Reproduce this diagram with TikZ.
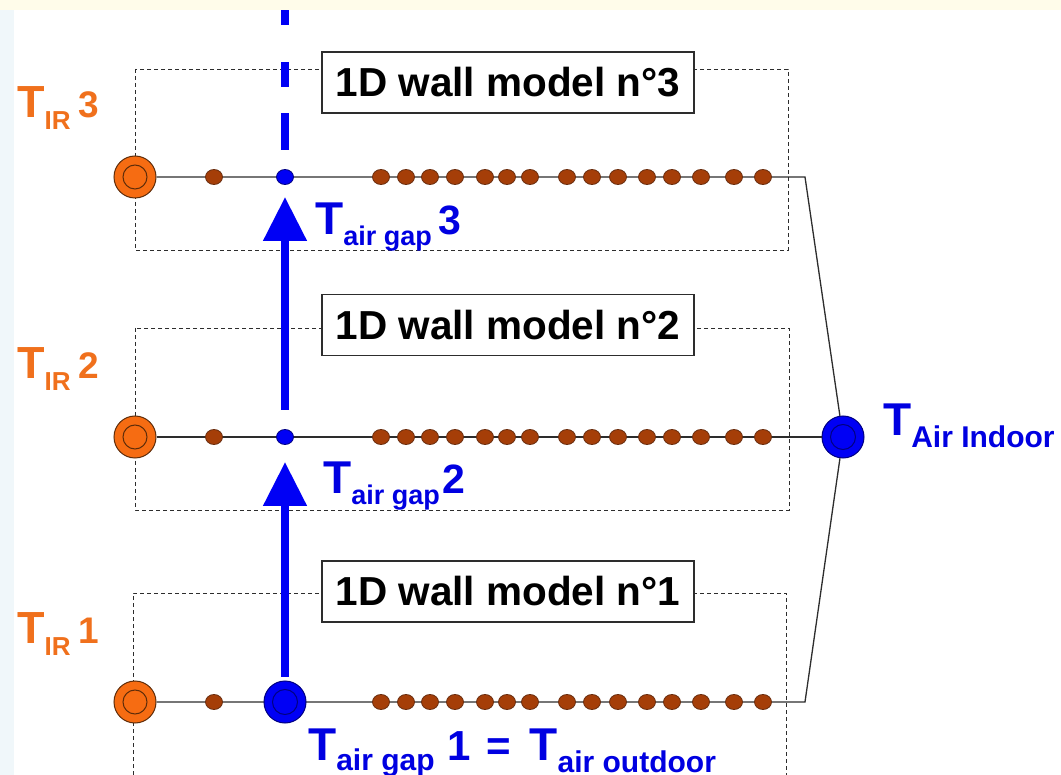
\documentclass[tikz,border=0pt]{standalone}
\usepackage{fontspec}
\setmainfont{Liberation Sans}
\usetikzlibrary{arrows.meta,shapes.geometric}

\definecolor{irorange}{RGB}{246,108,18}
\definecolor{irtext}{RGB}{240,112,28}
\definecolor{nodeedge}{RGB}{95,45,10}
\definecolor{brick}{RGB}{165,62,8}
\definecolor{brickedge}{RGB}{105,45,15}
\definecolor{airblue}{RGB}{0,0,245}
\definecolor{airedge}{RGB}{0,0,130}
\definecolor{textblue}{RGB}{0,0,225}
\definecolor{wire}{RGB}{45,45,45}
\definecolor{topband}{RGB}{255,252,234}
\definecolor{leftband}{RGB}{240,247,250}

\begin{document}
\begin{tikzpicture}[x=1pt,y=-1pt,
  wallbox/.style={draw=wire,line width=0.9pt,dash pattern=on 4pt off 3pt},
  modelbox/.style={draw=wire,line width=1.3pt,fill=white,minimum width=372pt,
    minimum height=61pt,inner sep=0pt,
    font=\fontsize{40.5}{40.5}\selectfont\bfseries},
  rowline/.style={draw=wire,line width=1.3pt},
  brickdot/.style={ellipse,fill=brick,draw=brickedge,line width=0.8pt,
    minimum width=17pt,minimum height=15pt,inner sep=0pt},
  gapdot/.style={ellipse,fill=airblue,draw=airedge,line width=0.8pt,
    minimum width=17pt,minimum height=15pt,inner sep=0pt},
  irnode/.style={circle,fill=irorange,draw=nodeedge,line width=1pt,
    minimum size=42pt,inner sep=0pt,
    path picture={\draw[nodeedge,line width=1pt]
      (path picture bounding box.center) circle (12pt);}},
  airnode/.style={circle,fill=airblue,draw=airedge,line width=1pt,
    minimum size=42pt,inner sep=0pt,
    path picture={\draw[airedge,line width=1pt]
      (path picture bounding box.center) circle (12.5pt);}},
  flow/.style={draw=airblue,line width=8pt,
    -{Triangle[width=42pt,length=44pt]}},
  flowdash/.style={draw=airblue,line width=8pt,
    dash pattern=on 37pt off 26pt on 25pt off 37pt on 40pt},
  irlabel/.style={anchor=base west,inner sep=0pt,text=irtext,font=\bfseries},
  bluelabel/.style={anchor=base west,inner sep=0pt,text=textblue,font=\bfseries}
]
\useasboundingbox (0,0) rectangle (1061,775);
\fill[white] (0,0) rectangle (1061,775);
\fill[topband] (0,0) rectangle (1061,10);
\fill[leftband] (0,10) rectangle (14,775);

% dashed outlines of the three wall models
\draw[wallbox] (135,69) rectangle (788,250);
\draw[wallbox] (135,328) rectangle (789,510);
\draw[wallbox] (133,775) -- (133,593) -- (786,593) -- (786,775);

% model titles
\node[modelbox] (m3) at (508,82.5) {1D wall model n°3};
\node[modelbox] (m2) at (508,325) {1D wall model n°2};
\node[modelbox] (m1) at (508,591.5) {1D wall model n°1};

% indoor air node
\node[airnode] (indoor) at (843,437) {};

% surface nodes
\node[irnode] (ir3) at (135,177) {};
\node[irnode] (ir2) at (135,437) {};
\node[irnode] (ir1) at (135,702) {};

% line ends before the link to the indoor node
\coordinate (e3) at (805,177);
\coordinate (e1) at (805,702);

% wall discretisation lines
\draw[rowline] (ir3) -- (e3) -- (indoor);
\draw[rowline] (ir2) -- (indoor);
\draw[rowline] (ir1) -- (e1) -- (indoor);

% wall layer nodes
\foreach \r/\y in {3/177,2/437,1/702}{
  \node[brickdot] (d\r-0) at (214,\y) {};
  \foreach \x [count=\i] in {381,406,430,455,485,507,530,567,592,618,647,672,701,734,763}{
    \node[brickdot] (d\r-\i) at (\x,\y) {};
  }
}

% air gap nodes
\node[gapdot] (g3) at (285,177) {};
\node[gapdot] (g2) at (285,437) {};
\node[airnode] (g1) at (285,702) {};

% air flow through the gap
\coordinate (t2) at (285,462);
\coordinate (s2) at (285,410);
\coordinate (t3) at (285,197);
\coordinate (s3) at (285,150);
\coordinate (top) at (285,10);
\draw[flow,shorten <=4pt] (g1) -- (t2);
\draw[flow] (s2) -- (t3);
\draw[flowdash] (s3) -- (top);

% surface temperature labels
\node[irlabel] (lir3) at (17,118) {\fontsize{45}{45}\selectfont T\raisebox{-12pt}{\fontsize{26}{26}\selectfont IR}\hspace{8pt}\fontsize{37}{37}\selectfont 3};
\node[irlabel] (lir2) at (17,379) {\fontsize{45}{45}\selectfont T\raisebox{-12pt}{\fontsize{26}{26}\selectfont IR}\hspace{8pt}\fontsize{37}{37}\selectfont 2};
\node[irlabel] (lir1) at (17,643) {\fontsize{45}{45}\selectfont T\raisebox{-12pt}{\fontsize{26}{26}\selectfont IR}\hspace{8pt}\fontsize{37}{37}\selectfont 1};

% air temperature labels
\node[bluelabel] (lg3) at (315,235) {\fontsize{46}{46}\selectfont T\raisebox{-11pt}{\fontsize{27}{27}\selectfont air gap}\hspace{7pt}\fontsize{41}{41}\selectfont 3};
\node[bluelabel] (lg2) at (323,494) {\fontsize{46}{46}\selectfont T\raisebox{-11pt}{\fontsize{27}{27}\selectfont air gap}\hspace{3pt}\fontsize{41}{41}\selectfont 2};
\node[bluelabel] (lg1) at (308,760) {\fontsize{46}{46}\selectfont T\raisebox{-10pt}{\fontsize{30}{30}\selectfont air gap}\hspace{13pt}\fontsize{42}{42}\selectfont 1\hspace{16pt}=\hspace{18pt}\fontsize{46}{46}\selectfont T\raisebox{-12pt}{\fontsize{30}{30}\selectfont air outdoor}};
\node[bluelabel] (lin) at (883,436) {\fontsize{46}{46}\selectfont T\raisebox{-12pt}{\fontsize{30}{30}\selectfont Air Indoor}};
\end{tikzpicture}
\end{document}
